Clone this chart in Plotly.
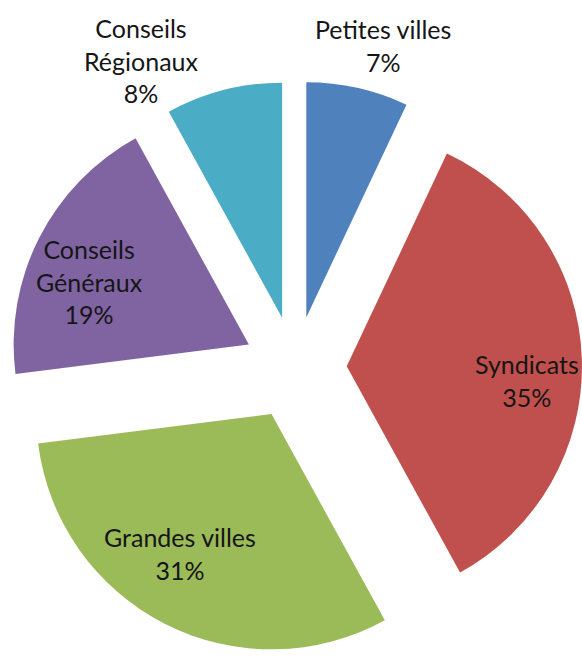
import math
import plotly.graph_objects as go

labels = ["Petites villes", "Syndicats", "Grandes villes", "Conseils Généraux", "Conseils Régionaux"]
display_labels = ["Petites villes", "Syndicats", "Grandes villes", "Conseils<br>Généraux", "Conseils<br>Régionaux"]
values = [7, 35, 31, 19, 8]
colors = ["#4F81BD", "#C0504D", "#9BBB59", "#8064A2", "#4BACC6"]

# label placement style: (radial factor of radius from pulled slice centre, angular offset in degrees)
label_radial = [1.16, 0.695, 0.656, 0.705, 1.215]
label_angle_offset = [2.0, 4.9, 9.2, -4.8, -15.0]

W, H = 582, 664
pull = 0.22
CX, CY, HALF = 295, 368, 287  # pie box centre / half-size in px
dom_x = [(CX - HALF) / W, min(1.0, (CX + HALF) / W)]
dom_y = [(H - (CY + HALF)) / H, (H - (CY - HALF)) / H]

FONT = dict(family="Lato, sans-serif", size=25, color="#151515")

fig = go.Figure(go.Pie(
    labels=labels,
    values=values,
    textinfo="none",
    sort=False,
    direction="clockwise",
    rotation=0,
    pull=[pull] * len(values),
    marker=dict(colors=colors, line=dict(width=0)),
    domain=dict(x=dom_x, y=dom_y),
    showlegend=False,
    hoverinfo="label+percent",
))

# replicate plotly's pie geometry to place the labels
box_w = W * (dom_x[1] - dom_x[0])
box_h = H * (dom_y[1] - dom_y[0])
r = min(box_w, box_h) / 2 / (1 + pull)
cx = W * (dom_x[0] + dom_x[1]) / 2 + 5
cy = H * (1 - dom_y[0]) - box_h / 2 + 5
# label distances are measured relative to the reference radius
r_label = 240
pull_label = 60
total = sum(values)
cum = 0
annotations = []
for lab, v, f, off in zip(display_labels, values, label_radial, label_angle_offset):
    mid = math.radians(360 * (cum + v / 2) / total)
    cum += v
    px = cx + pull_label * math.sin(mid)
    py = cy - pull_label * math.cos(mid)
    a = mid + math.radians(off)
    lx = px + f * r_label * math.sin(a)
    ly = py - f * r_label * math.cos(a)
    pct = round(100 * v / total)
    annotations.append(dict(
        x=lx / W, y=1 - ly / H, xref="paper", yref="paper",
        text=f"{lab}<br>{pct}%", showarrow=False, align="center",
        xanchor="center", yanchor="middle", font=FONT,
    ))

fig.update_layout(
    width=W, height=H,
    margin=dict(l=0, r=0, t=0, b=0),
    paper_bgcolor="white",
    plot_bgcolor="white",
    showlegend=False,
    annotations=annotations,
)

fig.write_html(
    "out.html",
    config={"displayModeBar": False},
    post_script="document.body.style.margin='0';",
)
